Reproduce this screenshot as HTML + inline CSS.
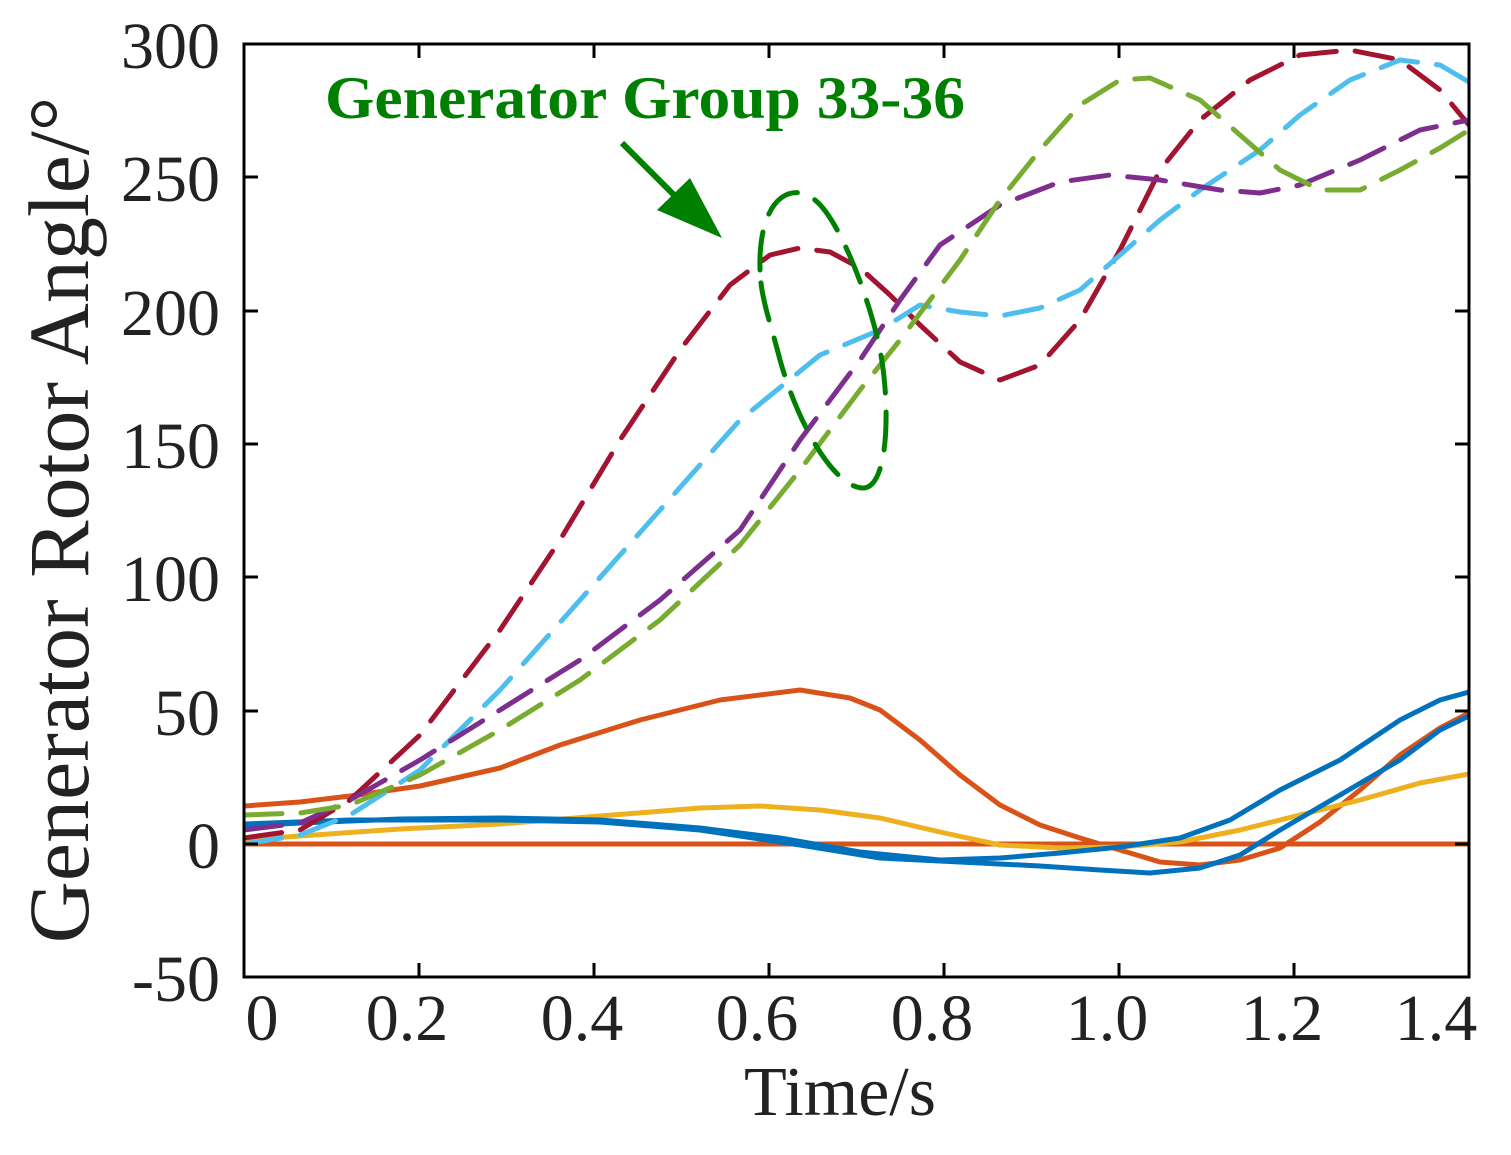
<!DOCTYPE html>
<html><head><meta charset="utf-8"><style>
body{margin:0;background:#fff}
svg text{font-family:"Liberation Serif",serif}
</style></head><body>
<svg width="1511" height="1150" viewBox="0 0 1511 1150" xmlns="http://www.w3.org/2000/svg">
<rect width="1511" height="1150" fill="#fff"/>
<defs><clipPath id="c"><rect x="244" y="44" width="1225" height="933"/></clipPath></defs>
<g clip-path="url(#c)" fill="none" stroke-width="5" stroke-linejoin="round" stroke-linecap="round">
<line x1="244" y1="844" x2="1469" y2="844" stroke="#D95319"/>
<polyline stroke="#D95319" points="244,806 300,802 350,796 420,786 500,768 560,745 640,720 720,700 800,690 850,698 880,710 920,740 960,775 1000,805 1040,825 1080,838 1120,850 1160,862 1200,865 1240,860 1280,848 1320,822 1360,790 1400,755 1440,728 1469,713"/>
<polyline stroke="#EDB120" points="244,840 300,836 400,829 500,824 600,816 700,808 760,806 820,810 880,818 940,832 1000,845 1060,848 1120,847 1180,842 1240,830 1300,815 1360,800 1420,783 1469,774"/>
<polyline stroke="#0072BD" points="244,826 300,823 400,819 500,818 600,820 700,828 780,838 860,852 940,860 1000,858 1060,853 1120,847 1180,838 1230,820 1280,790 1340,760 1400,720 1440,700 1469,692"/>
<polyline stroke="#0072BD" points="244,824 350,820 500,820 600,822 700,830 800,845 880,858 960,862 1040,866 1100,870 1150,873 1200,868 1240,855 1280,830 1340,795 1400,760 1440,730 1469,716"/>
<g stroke-dasharray="38,19">
<polyline stroke="#A2142F" points="244,838 300,830 350,800 420,735 500,630 560,540 620,440 680,350 730,285 770,255 800,248 830,252 860,268 890,295 920,325 960,362 1000,380 1040,365 1080,320 1120,250 1160,170 1200,120 1250,80 1300,55 1350,50 1400,60 1440,90 1469,125"/>
<polyline stroke="#4DBEEE" points="244,844 300,835 350,815 420,770 500,690 580,600 660,510 740,420 820,355 880,330 920,305 960,312 1000,316 1040,308 1080,290 1120,255 1160,220 1200,190 1260,150 1300,115 1350,80 1400,60 1440,65 1469,82"/>
<polyline stroke="#7E2F8E" points="244,830 300,823 350,800 420,760 500,710 580,660 660,600 740,530 800,440 860,360 900,300 940,245 1000,205 1060,182 1110,175 1160,180 1220,190 1260,193 1300,185 1360,160 1420,130 1469,120"/>
<polyline stroke="#77AC30" points="244,815 300,813 350,805 420,775 500,730 580,680 660,620 740,545 800,470 860,390 900,340 960,260 1000,200 1040,150 1080,105 1120,80 1150,78 1200,100 1240,135 1280,170 1320,190 1360,190 1400,170 1440,148 1469,130"/>
<path stroke="#008000" d="M760,270 C758,200 790,180 815,200 C840,220 870,300 880,350 C890,400 890,490 862,488 C835,486 800,430 780,360 C770,320 761,300 760,270 Z"/>
</g>
</g>
<line x1="622" y1="143" x2="685" y2="206" stroke="#008000" stroke-width="6"/>
<polygon points="722,238 657,210 690,178" fill="#008000"/>
<text x="325" y="118" font-size="60" font-weight="bold" fill="#008000" textLength="640" lengthAdjust="spacingAndGlyphs">Generator Group 33-36</text>
<rect x="244" y="44" width="1225" height="933" fill="none" stroke="#000" stroke-width="3"/>
<g stroke="#000" stroke-width="3">
<path d="M244,44h14M244,177h14M244,311h14M244,444h14M244,577h14M244,711h14M244,844h14M1469,44h-14M1469,177h-14M1469,311h-14M1469,444h-14M1469,577h-14M1469,711h-14M1469,844h-14"/>
<path d="M419,977v-14M594,977v-14M769,977v-14M944,977v-14M1119,977v-14M1294,977v-14M419,44v14M594,44v14M769,44v14M944,44v14M1119,44v14M1294,44v14"/>
</g>
<g font-size="66" fill="#222" text-anchor="end">
<text x="220" y="68">300</text><text x="220" y="201">250</text><text x="220" y="335">200</text><text x="220" y="468">150</text><text x="220" y="601">100</text><text x="220" y="735">50</text><text x="220" y="868">0</text><text x="220" y="1001">-50</text>
</g>
<g font-size="66" fill="#222" text-anchor="middle">
<text x="262" y="1040">0</text><text x="407" y="1040">0.2</text><text x="582" y="1040">0.4</text><text x="757" y="1040">0.6</text><text x="932" y="1040">0.8</text><text x="1107" y="1040">1.0</text><text x="1282" y="1040">1.2</text><text x="1436" y="1040">1.4</text>
</g>
<text x="840" y="1115" font-size="70" fill="#222" text-anchor="middle">Time/s</text>
<text transform="translate(88,520) rotate(-90)" font-size="86" fill="#222" text-anchor="middle">Generator Rotor Angle/°</text>
</svg>
</body></html>
